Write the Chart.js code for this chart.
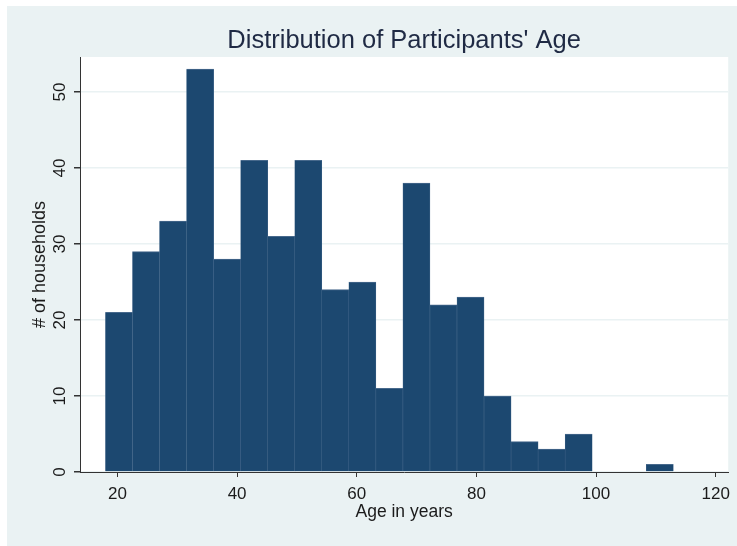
<!DOCTYPE html>
<html>
<head>
<meta charset="utf-8">
<script src="https://cdn.jsdelivr.net/npm/chart.js@4"></script>
<style>
  html, body { margin:0; padding:0; background:#fff; }
  #wrap { width:737px; height:546px; }
</style>
</head>
<body>
<div id="wrap"><canvas id="c" width="737" height="546"></canvas></div>
<script>
const TITLE = "Distribution of Participants' Age";
const X_TITLE = 'Age in years';
const Y_TITLE = '# of households';

// histogram: first bin edge, bin width (years), counts per bin
const binStart = 18;
const binWidth = 4.52;
const counts = [21, 29, 33, 53, 28, 41, 31, 41, 24, 25, 11, 38, 22, 23, 10, 4, 3, 5, 0, 0, 1];

const xTicks = [20, 40, 60, 80, 100, 120];
const yTicks = [0, 10, 20, 30, 40, 50];

const BG = '#eaf2f3', BAR = '#1c4870', INK = '#1b1b1b';
const FONT = "'Liberation Sans', Arial, sans-serif";

const points = counts.map((v, i) => ({ x: binStart + binWidth * (i + 0.5), y: v }));

const frame = {
  id: 'frame',
  beforeDraw(chart) {
    const { ctx, chartArea: a } = chart;
    ctx.save();
    ctx.fillStyle = BG;
    ctx.fillRect(7, 6, chart.width - 7, chart.height - 6);
    ctx.fillStyle = '#fff';
    ctx.fillRect(a.left, a.top, a.right - a.left, a.bottom - a.top);
    ctx.restore();
  },
  afterDraw(chart) {
    const { ctx, chartArea: a } = chart;
    const y = chart.scales.y;
    ctx.save();
    ctx.fillStyle = '#1f2a44';
    ctx.font = '25.5px ' + FONT;
    ctx.textAlign = 'center';
    ctx.textBaseline = 'middle';
    ctx.fillText(TITLE, (a.left + a.right) / 2, 41);
    // rotated y tick labels
    ctx.fillStyle = INK;
    ctx.font = '17px ' + FONT;
    yTicks.forEach(t => {
      ctx.save();
      ctx.translate(59, y.getPixelForValue(t));
      ctx.rotate(-Math.PI / 2);
      ctx.fillText(String(t), 0, 1);
      ctx.restore();
    });
    ctx.restore();
  }
};

new Chart(document.getElementById('c'), {
  type: 'bar',
  data: {
    datasets: [{
      data: points,
      backgroundColor: BAR,
      borderColor: '#47698c',
      borderWidth: { top: 1, left: 0.5, right: 0.5, bottom: 0 },
      barPercentage: 1,
      categoryPercentage: 1
    }]
  },
  options: {
    responsive: false,
    animation: false,
    layout: { padding: { left: 7, right: 8, top: 57, bottom: 0 } },
    plugins: { legend: { display: false }, tooltip: { enabled: false }, title: { display: false } },
    scales: {
      x: {
        type: 'linear',
        offset: false,
        min: 13.74, max: 122.1,
        afterBuildTicks: s => { s.ticks = xTicks.map(v => ({ value: v })); },
        afterFit: s => { s.height = 74; },
        border: { display: true, color: '#333', width: 1 },
        grid: { display: true, offset: false, drawOnChartArea: false, tickLength: 5, tickColor: '#333' },
        ticks: { color: INK, font: { family: FONT, size: 17 }, padding: 7, maxRotation: 0 },
        title: { display: true, text: X_TITLE, color: INK, font: { family: FONT, size: 17.5 }, padding: { top: 0, bottom: 23 } }
      },
      y: {
        min: 0, max: 54.6,
        afterBuildTicks: s => { s.ticks = yTicks.map(v => ({ value: v })); },
        afterFit: s => { s.width = 73; },
        border: { display: true, color: '#333', width: 1 },
        grid: { color: BG, lineWidth: 1.5, tickLength: 6, tickColor: '#333' },
        ticks: { display: false },
        title: { display: true, text: Y_TITLE, color: INK, font: { family: FONT, size: 18 }, padding: { top: 22, bottom: 0 } }
      }
    }
  },
  plugins: [frame]
});
</script>
</body>
</html>
